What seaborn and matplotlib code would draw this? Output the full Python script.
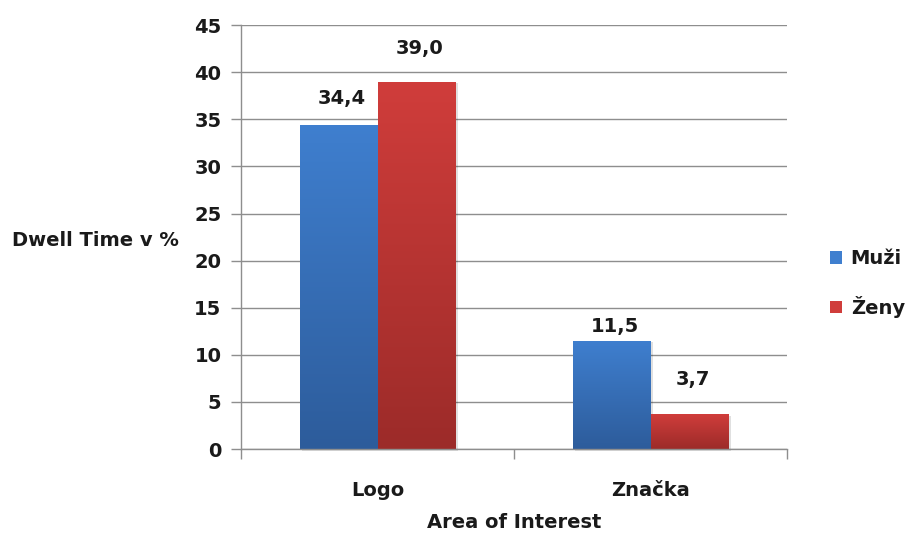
import numpy as np
import pandas as pd
import matplotlib
matplotlib.use("Agg")
import matplotlib.pyplot as plt
from matplotlib.patches import Rectangle
from matplotlib.colors import LinearSegmentedColormap
import seaborn as sns

categories = ["Logo", "Značka"]
series = ["Muži", "Ženy"]
muzi = [34.4, 11.5]
zeny = [39.0, 3.7]
y_ticks = [0, 5, 10, 15, 20, 25, 30, 35, 40, 45]

df = pd.DataFrame({
    "Area of Interest": categories * 2,
    "Pohlaví": [series[0]] * len(categories) + [series[1]] * len(categories),
    "Dwell": muzi + zeny,
})

sns.set_theme(style="white")
plt.rcParams["font.family"] = ["DejaVu Sans"]
plt.rcParams["font.weight"] = "bold"

FS = 14
TXT = "#1a1a1a"
top_cols = {"Muži": "#3f7fcf", "Ženy": "#d03d3b"}
bot_cols = {"Muži": "#2d5c9b", "Ženy": "#9c2b29"}

fig = plt.figure(figsize=(9.06, 5.34), dpi=100)
ax = fig.add_axes([0.266, 0.159, 0.603, 0.794])

sns.barplot(data=df, x="Area of Interest", y="Dwell", hue="Pohlaví",
            hue_order=series, palette=top_cols, width=0.571, gap=0,
            saturation=1, ax=ax, legend=False)

ax.set_ylim(0, 45)
ax.set_yticks(y_ticks)
ax.set_xlim(-0.5, 1.5)

# vertical gradient fill + soft shadow for every bar
for container, name in zip(ax.containers, series):
    cmap = LinearSegmentedColormap.from_list(name, [bot_cols[name], top_cols[name]])
    grad = np.linspace(0, 1, 256).reshape(-1, 1)
    for patch in container:
        x0, y0 = patch.get_x(), patch.get_y()
        w, h = patch.get_width(), patch.get_height()
        shadow = Rectangle((x0 + 0.008, y0 - 0.15), w, h, transform=ax.transData,
                           facecolor="#000000", alpha=0.12, edgecolor="none",
                           zorder=1.5, clip_on=False)
        ax.add_patch(shadow)
        im = ax.imshow(grad, extent=[x0, x0 + w, y0, y0 + h], origin="lower",
                       cmap=cmap, aspect="auto", zorder=2)
        im.set_clip_path(patch)
        patch.set_facecolor("none")
        patch.set_edgecolor("none")
ax.set_xlim(-0.5, 1.5)
ax.set_ylim(0, 45)

# value labels in Czech decimal format
label_offsets = [[12.5, 3.5], [17, 18]]
for container, offs in zip(ax.containers, label_offsets):
    for patch, off in zip(container, offs):
        v = patch.get_height()
        ax.annotate(f"{v:.1f}".replace(".", ","),
                    (patch.get_x() + patch.get_width() / 2, v),
                    xytext=(2, off), textcoords="offset points",
                    ha="center", va="bottom", fontsize=FS, fontweight="bold",
                    color=TXT)

grid_col = "#8e8e8e"
ax.yaxis.grid(True, color=grid_col, linewidth=1)
ax.set_axisbelow(True)
for s in ["top", "right"]:
    ax.spines[s].set_visible(False)
for s in ["left", "bottom"]:
    ax.spines[s].set_color(grid_col)
    ax.spines[s].set_linewidth(1)
    ax.spines[s].set_zorder(3)

ax.tick_params(axis="y", left=True, length=7, width=1, color=grid_col,
               labelsize=FS, pad=7, labelcolor=TXT)
ax.tick_params(axis="x", which="major", bottom=False, labelsize=FS, pad=17,
               labelcolor=TXT)
# category boundary ticks below the baseline
ax.set_xticks([-0.5, 0.5, 1.5], minor=True)
ax.tick_params(axis="x", which="minor", bottom=True, length=7, width=1,
               color=grid_col, direction="out")
for lab in ax.get_xticklabels() + ax.get_yticklabels():
    lab.set_fontweight("bold")

ax.set_xlabel("Area of Interest", fontsize=FS, fontweight="bold",
              color=TXT, labelpad=9)
ax.set_ylabel("Dwell Time v %", fontsize=FS, fontweight="bold", color=TXT,
              rotation=0, ha="left", va="center")
ax.yaxis.set_label_coords(-0.419, 0.493)

handles = [Rectangle((0, 0), 1, 1, facecolor=top_cols[s], edgecolor="none") for s in series]
leg = fig.legend(handles, series, loc="center left", bbox_to_anchor=(0.916, 0.469),
                 frameon=False, fontsize=FS, handlelength=0.62, handleheight=0.62,
                 handletextpad=0.45, labelspacing=1.42, borderpad=0, borderaxespad=0)
for t in leg.get_texts():
    t.set_fontweight("bold")
    t.set_color(TXT)

fig.savefig("out.png", dpi=100)
